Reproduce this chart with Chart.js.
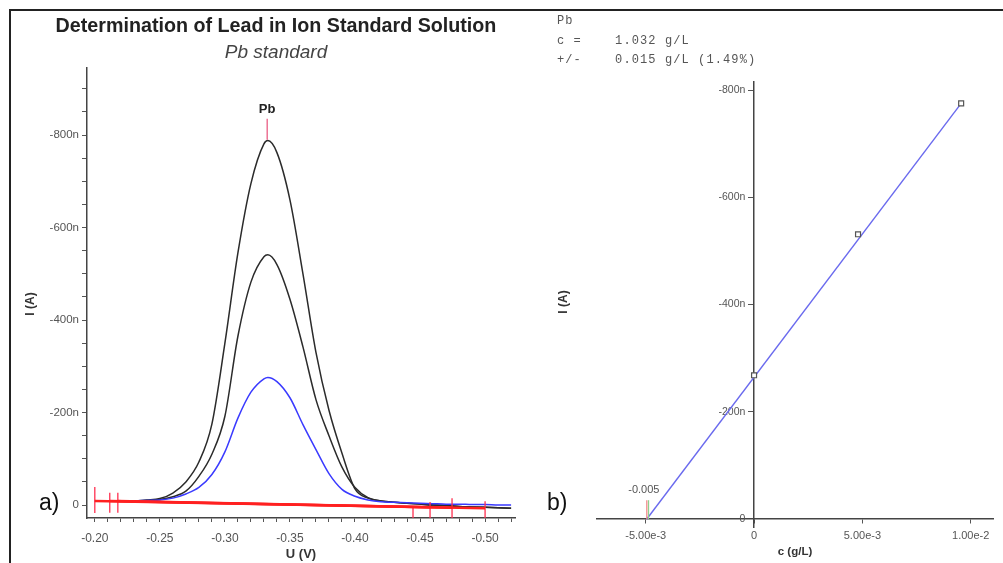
<!DOCTYPE html>
<html><head><meta charset="utf-8">
<script src="https://cdn.jsdelivr.net/npm/chart.js@4.4.1/dist/chart.umd.min.js"></script>
<style>
html,body{margin:0;padding:0;background:#fff;width:1003px;height:563px;overflow:hidden;font-family:"Liberation Sans",Arial,sans-serif;}
#left{position:absolute;left:0;top:0;width:530px;height:563px;}
#right{position:absolute;left:530px;top:0;width:473px;height:563px;}
.t{position:absolute;white-space:nowrap;}
.mono{font-family:"Liberation Mono","DejaVu Sans Mono",monospace;font-size:12px;letter-spacing:1.1px;color:#555;white-space:pre;line-height:19.5px;}
</style></head><body>
<div id="left"><canvas id="c1" width="530" height="563"></canvas></div>
<div id="right"><canvas id="c2" width="473" height="563"></canvas></div>

<div class="t" style="left:9px;top:9px;width:994px;height:2px;background:#222;"></div>
<div class="t" style="left:9px;top:9px;width:2px;height:554px;background:#222;"></div>

<div class="t" style="left:0;width:552px;top:13px;text-align:center;font-weight:bold;font-size:19.7px;line-height:24px;color:#222;">Determination of Lead in Ion Standard Solution</div>
<div class="t" style="left:0;width:552px;top:40px;text-align:center;font-style:italic;font-size:19px;line-height:24px;color:#444;">Pb standard</div>
<div class="t" style="left:39px;top:489px;font-size:23px;line-height:26px;color:#111;">a)</div>
<div class="t" style="left:547px;top:489px;font-size:23px;line-height:26px;color:#111;">b)</div>

<div class="t mono" style="left:557px;top:12px;">Pb
c =    1.032 g/L
+/-    0.015 g/L (1.49%)</div>
<div class="t" style="left:10px;top:297px;width:40px;text-align:center;font-weight:bold;font-size:12px;line-height:14px;color:#333;transform:rotate(-90deg);">I (A)</div>
<div class="t" style="left:543px;top:295px;width:40px;text-align:center;font-weight:bold;font-size:12px;line-height:14px;color:#333;transform:rotate(-90deg);">I (A)</div>
<div class="t" style="left:755px;top:544px;width:80px;text-align:center;font-weight:bold;font-size:11.5px;line-height:14px;color:#333;">c (g/L)</div>

<script>
// ---------- Panel a) voltammograms ----------
const potential = [-0.20,-0.21,-0.22,-0.23,-0.24,-0.25,-0.26,-0.27,-0.28,-0.29,-0.30,-0.31,-0.32,-0.33,-0.333,-0.34,-0.35,-0.36,-0.37,-0.38,-0.39,-0.40,-0.41,-0.42,-0.43,-0.44,-0.45,-0.46,-0.47,-0.48,-0.49,-0.50,-0.51,-0.52];
const currentAdd2 = [-9,-9,-9,-9,-11,-14,-26,-50,-93,-175,-350,-545,-695,-781,-788,-762,-660,-500,-330,-205,-112,-35,-15,-9,-6,-4,-2,0,1,3,4,5,6,7];
const currentAdd1 = [-9,-9,-9,-9,-10,-12,-18,-30,-62,-110,-192,-365,-482,-537,-541,-520,-445,-342,-228,-150,-82,-38,-16,-9,-6,-4,-2,0,1,3,4,5,6,7];
const currentSample = [-9,-9,-9,-9,-10,-11,-15,-24,-38,-66,-115,-188,-244,-273,-276,-267,-232,-174,-120,-68,-34,-19,-11,-7,-6,-5,-4,-3,-2,-2,-1,-1,0,0];
const baseStartU = [-0.200,-0.2115,-0.2177];
const baseEndU = [-0.500,-0.4746,-0.4577];
const baseStartI = [-9,-9,-9];
const baseEndI = [7,6,5];
const markerU = [-0.200,-0.2115,-0.2177,-0.4446,-0.4577,-0.4746,-0.500];
const markerI = [-11,-5,-5,17,13,9,11];
const peakU = -0.3325;
const peakI = [-790,-835];
const peakName = 'Pb';
const leftXMajor = [-0.20,-0.25,-0.30,-0.35,-0.40,-0.45,-0.50];
const leftYMajor = [-800,-600,-400,-200,0];

// ---------- Panel b) standard addition ----------
const addConc = [0, 0.0048, 0.00956];
const addCurrent = [-268, -531, -775];
const fitConc = [-0.00495, 0.00956];
const fitCurrent = [0, -775];
const interceptMarkC = [-0.00495, -0.00487];
const interceptMarkI = [0, -35];
const interceptLabel = '-0.005';
const rightXTicks = [-0.005, 0, 0.005, 0.01];
const rightXLabels = ['-5.00e-3','0','5.00e-3','1.00e-2'];
const rightYTicks = [-800,-600,-400,-200,0];
const rightYLabels = ['-800n','-600n','-400n','-200n','0'];

const FONT = '"Liberation Sans", Arial, sans-serif';
Chart.defaults.font.family = FONT;
Chart.defaults.animation = false;

const pts = (xs, ys) => xs.map((x,i)=>({x:x, y:ys[i]}));
const near = (a,b) => Math.abs(a-b) < 1e-7;

const textPlugin = {
  id: 'textItems',
  afterDatasetsDraw(chart, args, opts) {
    const ctx = chart.ctx;
    (opts.items || []).forEach(it => {
      const x = chart.scales.x.getPixelForValue(it.x) + (it.dx || 0);
      const y = chart.scales.y.getPixelForValue(it.y) + (it.dy || 0);
      ctx.save();
      ctx.font = it.font;
      ctx.fillStyle = it.color;
      ctx.textAlign = 'center';
      ctx.textBaseline = 'middle';
      ctx.fillText(it.text, x, y);
      ctx.restore();
    });
  }
};

const lineDs = (data, color, width, extra) => Object.assign({
  data, showLine:true, borderColor:color, borderWidth:width, pointRadius:0, fill:false,
  cubicInterpolationMode:'monotone'
}, extra||{});

// tick positions for panel a (major + minor)
const leftXAll = []; for (let k=20;k<=52;k++) leftXAll.push(-k/100);
const leftYAll = []; for (let v=-900; v<=0; v+=50) leftYAll.push(v);

new Chart(document.getElementById('c1'), {
  type: 'scatter',
  data: { datasets: [
    lineDs(pts([baseStartU[0],baseEndU[0]],[baseStartI[0],baseEndI[0]]), '#ff2020', 2.5, {cubicInterpolationMode:'default'}),
    lineDs(pts([baseStartU[1],baseEndU[1]],[baseStartI[1],baseEndI[1]]), '#ff2020', 2.5, {cubicInterpolationMode:'default'}),
    lineDs(pts([baseStartU[2],baseEndU[2]],[baseStartI[2],baseEndI[2]]), '#ff2020', 2.5, {cubicInterpolationMode:'default'}),
    { data: pts(markerU, markerI), showLine:false, pointStyle:'line', rotation:90,
      pointRadius:[13,10,10,7,9,11,9], borderColor:'#ff3050', borderWidth:1.3 },
    lineDs(pts([peakU,peakU], peakI), '#e8507a', 1.2, {cubicInterpolationMode:'default'}),
    lineDs(pts(potential, currentSample), '#3a3aff', 1.5),
    lineDs(pts(potential, currentAdd1), '#2b2b2b', 1.5),
    lineDs(pts(potential, currentAdd2), '#2b2b2b', 1.5)
  ]},
  options: {
    responsive:false, maintainAspectRatio:false, devicePixelRatio:1,
    layout:{ padding:{ left:19, right:15, top:68, bottom:0 } },
    plugins:{ legend:{display:false}, tooltip:{enabled:false},
      textItems:{ items:[{x:peakU, y:peakI[1], dy:-9, text:peakName, font:'bold 13px '+FONT, color:'#222'}] } },
    scales:{
      x:{ type:'linear', reverse:true, min:-0.523, max:-0.194,
        afterBuildTicks:s=>{ s.ticks = leftXAll.map(v=>({value:v})); },
        afterFit:s=>{ s.height = 45; },
        ticks:{ autoSkip:false, maxRotation:0, minRotation:0, padding:9, color:'#555', font:{size:12},
          callback:v=> leftXMajor.some(m=>near(m,v)) ? v.toFixed(2) : '' },
        grid:{ drawOnChartArea:false, drawTicks:true, tickLength:4, color:'#555' },
        border:{ display:true, color:'#444', width:1.5 },
        title:{ display:true, text:'U (V)', color:'#333', font:{size:13, weight:'bold'}, padding:{top:0,bottom:1} }
      },
      y:{ type:'linear', reverse:true, min:-945, max:28,
        afterBuildTicks:s=>{ s.ticks = leftYAll.map(v=>({value:v})); },
        afterFit:s=>{ s.width = 68; },
        ticks:{ autoSkip:false, padding:3, color:'#555', font:{size:11.5},
          callback:v=> leftYMajor.includes(v) ? (v===0 ? '0' : v + 'n') : '' },
        grid:{ drawOnChartArea:false, drawTicks:true, tickLength:5, color:'#555' },
        border:{ display:true, color:'#444', width:1.5 }
      }
    }
  },
  plugins:[textPlugin]
});

new Chart(document.getElementById('c2'), {
  type: 'scatter',
  data: { datasets: [
    { data: pts(addConc, addCurrent), showLine:false, pointStyle:'rect', pointRadius:3.5,
      borderColor:'#555', backgroundColor:'#fff', borderWidth:1.2 },
    lineDs(pts([interceptMarkC[0],interceptMarkC[0]],interceptMarkI), '#f08080', 1.2, {cubicInterpolationMode:'default'}),
    lineDs(pts([interceptMarkC[1],interceptMarkC[1]],interceptMarkI), '#8fd08f', 1.2, {cubicInterpolationMode:'default'}),
    lineDs(pts(fitConc, fitCurrent), '#6a6aee', 1.4, {cubicInterpolationMode:'default'})
  ]},
  options: {
    responsive:false, maintainAspectRatio:false, devicePixelRatio:1,
    layout:{ padding:{ left:67, right:10, top:82, bottom:36 } },
    plugins:{ legend:{display:false}, tooltip:{enabled:false},
      textItems:{ items:[{x:fitConc[0], y:0, dx:-3, dy:-29, text:interceptLabel, font:'11px '+FONT, color:'#555'}] } },
    scales:{
      x:{ type:'linear', position:{y:0}, min:-0.00725, max:0.01103,
        afterBuildTicks:s=>{ s.ticks = rightXTicks.map(v=>({value:v})); },
        afterFit:s=>{ s.height = 0; },
        ticks:{ autoSkip:false, maxRotation:0, minRotation:0, padding:6, color:'#555', font:{size:11},
          callback:(v,i)=> rightXLabels[i] },
        grid:{ drawOnChartArea:false, drawTicks:true, tickLength:4, color:'#555' },
        border:{ display:true, color:'#444', width:1.5 }
      },
      y:{ type:'linear', position:{x:0}, reverse:true, min:-815, max:15,
        afterBuildTicks:s=>{ s.ticks = rightYTicks.map(v=>({value:v})); },
        afterFit:s=>{ s.width = 0; },
        ticks:{ autoSkip:false, padding:8, color:'#555', font:{size:10.5},
          callback:(v,i)=> rightYLabels[i] + '   ' },
        grid:{ drawOnChartArea:false, drawTicks:true, tickLength:5, color:'#555' },
        border:{ display:true, color:'#444', width:1.5 }
      }
    }
  },
  plugins:[textPlugin]
});
</script>
</body></html>
